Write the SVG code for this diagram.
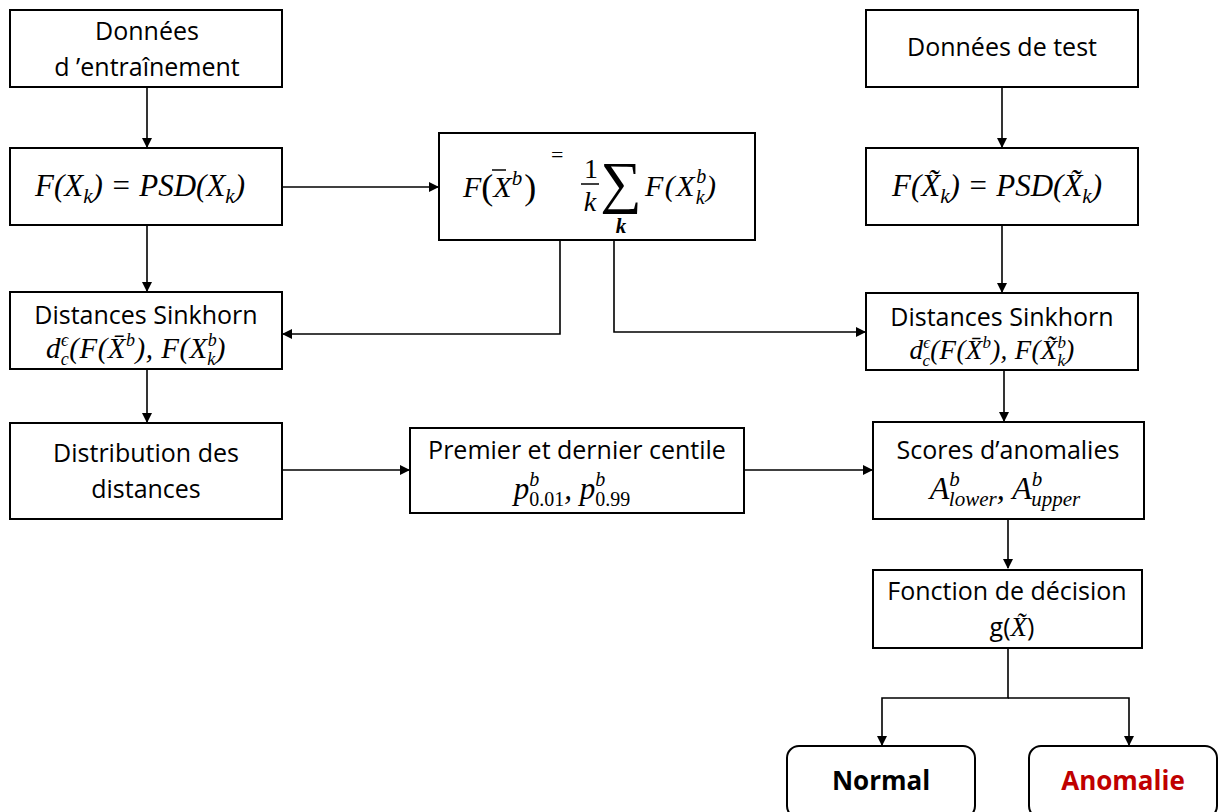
<svg xmlns="http://www.w3.org/2000/svg" width="1220" height="812" viewBox="0 0 1220 812">
<style>
.box{fill:#fff;stroke:#000;stroke-width:2}
.rbox{fill:#fff;stroke:#000;stroke-width:2}
.t{font-family:"Open Sans","Liberation Sans",sans-serif;font-size:25px;fill:#000;text-anchor:middle}
.m{font-family:"Liberation Serif","DejaVu Serif",serif;font-style:italic;fill:#000}
.up{font-style:normal}
.b{font-family:"Open Sans","Liberation Sans",sans-serif;font-size:26px;font-weight:bold;text-anchor:middle}
.c line,.c polyline{stroke:#000;stroke-width:1.6;fill:none}
</style>
<defs>
<marker id="a" markerWidth="10" markerHeight="10" refX="9" refY="5" orient="auto" markerUnits="userSpaceOnUse">
<path d="M0,0 L10,5 L0,10 z" fill="#000"/>
</marker>
</defs>
<rect width="1220" height="812" fill="#fff"/>

<g class="c">
<line x1="147" y1="87" x2="147" y2="147" marker-end="url(#a)"/>
<line x1="147" y1="225" x2="147" y2="291" marker-end="url(#a)"/>
<line x1="147" y1="369" x2="147" y2="422" marker-end="url(#a)"/>
<line x1="282" y1="187" x2="438" y2="187" marker-end="url(#a)"/>
<polyline points="560,240 560,334 283,334" marker-end="url(#a)"/>
<polyline points="614,240 614,332 865,332" marker-end="url(#a)"/>
<line x1="1002" y1="87" x2="1002" y2="147" marker-end="url(#a)"/>
<line x1="1002" y1="225" x2="1002" y2="292" marker-end="url(#a)"/>
<line x1="1004" y1="370" x2="1004" y2="421" marker-end="url(#a)"/>
<line x1="282" y1="470" x2="409" y2="470" marker-end="url(#a)"/>
<line x1="744" y1="470" x2="872" y2="470" marker-end="url(#a)"/>
<line x1="1008" y1="519" x2="1008" y2="568" marker-end="url(#a)"/>
<polyline points="1008,648 1008,698 882,698 882,745" marker-end="url(#a)"/>
<polyline points="1008,698 1129,698 1129,745" marker-end="url(#a)"/>
</g>

<g id="train">
<rect class="box" x="10" y="10" width="272" height="77"/>
<text class="t" x="147" y="40">Données</text>
<text class="t" x="147" y="76">d ’entraînement</text>
</g>

<g id="feat-train">
<rect class="box" x="10" y="148" width="272" height="77"/>
<text class="m" x="140" y="196" font-size="31" text-anchor="middle">F(X<tspan font-size="21" dy="7">k</tspan><tspan dy="-7">) = PSD(X</tspan><tspan font-size="21" dy="7">k</tspan><tspan dy="-7">)</tspan></text>
</g>

<g id="mean">
<rect class="box" x="439" y="133" width="316" height="107"/>
<text class="m" x="463" y="197" font-size="30">F<tspan class="up" font-size="36" dy="2">(</tspan><tspan dy="-2">X</tspan><tspan font-size="21" dy="-12">b</tspan><tspan class="up" font-size="36" dy="14" dx="2">)</tspan></text>
<line x1="492" y1="170" x2="506" y2="170" stroke="#000" stroke-width="1.5"/>
<text class="m up" x="551" y="162" font-size="22">=</text>
<text class="m up" x="591" y="178" font-size="28" text-anchor="middle">1</text>
<line x1="581" y1="184" x2="599" y2="184" stroke="#000" stroke-width="1.5"/>
<text class="m" x="590" y="211" font-size="28" text-anchor="middle">k</text>
<text class="m up" x="621" y="202" font-size="58" text-anchor="middle" font-family="DejaVu Sans">∑</text>
<text class="m" x="621" y="233" font-size="21" text-anchor="middle" font-weight="bold">k</text>
<text class="m" x="645" y="196" font-size="30" letter-spacing="1.5">F(X<tspan font-size="20" dy="-13">b</tspan><tspan font-size="20" dx="-12" dy="21">k</tspan><tspan dy="-8">)</tspan></text>
</g>

<g id="test">
<rect class="box" x="866" y="10" width="272" height="77"/>
<text class="t" x="1002" y="56">Données de test</text>
</g>

<g id="feat-test">
<rect class="box" x="866" y="148" width="272" height="77"/>
<text class="m" x="997" y="196" font-size="31" text-anchor="middle">F(X̃<tspan font-size="21" dy="7">k</tspan><tspan dy="-7">) = PSD(X̃</tspan><tspan font-size="21" dy="7">k</tspan><tspan dy="-7">)</tspan></text>
</g>

<g id="sink-train">
<rect class="box" x="10" y="292" width="272" height="77"/>
<text class="t" x="146" y="324">Distances Sinkhorn</text>
<text class="m" x="136" y="358" font-size="29" text-anchor="middle" letter-spacing="0.5">d<tspan font-size="18" dy="-12">ϵ</tspan><tspan font-size="18" dx="-8" dy="19">c</tspan><tspan dy="-7">(F(X̄</tspan><tspan font-size="18" dy="-12">b</tspan><tspan dy="12">), F(X</tspan><tspan font-size="18" dy="-12">b</tspan><tspan font-size="18" dx="-10" dy="19">k</tspan><tspan dy="-7">)</tspan></text>
</g>

<g id="sink-test">
<rect class="box" x="866" y="293" width="272" height="77"/>
<text class="t" x="1002" y="326">Distances Sinkhorn</text>
<text class="m" x="992" y="359" font-size="27" text-anchor="middle" letter-spacing="0.3">d<tspan font-size="17" dy="-11">ϵ</tspan><tspan font-size="17" dx="-8" dy="18">c</tspan><tspan dy="-7">(F(X̄</tspan><tspan font-size="17" dy="-11">b</tspan><tspan dy="11">), F(X̃</tspan><tspan font-size="17" dy="-11">b</tspan><tspan font-size="17" dx="-9" dy="18">k</tspan><tspan dy="-7">)</tspan></text>
</g>

<g id="distrib">
<rect class="box" x="10" y="423" width="272" height="96"/>
<text class="t" x="146" y="462">Distribution des</text>
<text class="t" x="146" y="498">distances</text>
</g>

<g id="centile">
<rect class="box" x="410" y="428" width="334" height="85"/>
<text class="t" x="577" y="459">Premier et dernier centile</text>
<text class="m" x="572" y="499" font-size="31" text-anchor="middle">p<tspan font-size="20" dy="-13">b</tspan><tspan class="up" font-size="20" dx="-10" dy="20">0.01</tspan><tspan dy="-7">, p</tspan><tspan font-size="20" dy="-13">b</tspan><tspan class="up" font-size="20" dx="-10" dy="20">0.99</tspan></text>
</g>

<g id="scores">
<rect class="box" x="873" y="422" width="271" height="97"/>
<text class="t" x="1008" y="459">Scores d’anomalies</text>
<text class="m" x="1005" y="499" font-size="32" text-anchor="middle">A<tspan font-size="21" dy="-13">b</tspan><tspan font-size="21" dx="-11" dy="20">lower</tspan><tspan dy="-7">, A</tspan><tspan font-size="21" dy="-13">b</tspan><tspan font-size="21" dx="-11" dy="20">upper</tspan></text>
</g>

<g id="decision">
<rect class="box" x="873" y="570" width="269" height="78"/>
<text class="t" x="1007" y="600">Fonction de décision</text>
<text class="t" x="1012" y="636">g(<tspan class="m" font-size="27">X̃</tspan>)</text>
</g>

<g id="normal">
<rect class="rbox" x="787" y="746" width="188" height="72" rx="12"/>
<text class="b" x="881" y="790" fill="#000">Normal</text>
</g>

<g id="anomalie">
<rect class="rbox" x="1029" y="746" width="188" height="72" rx="12"/>
<text class="b" x="1123" y="790" fill="#C00000">Anomalie</text>
</g>
</svg>
